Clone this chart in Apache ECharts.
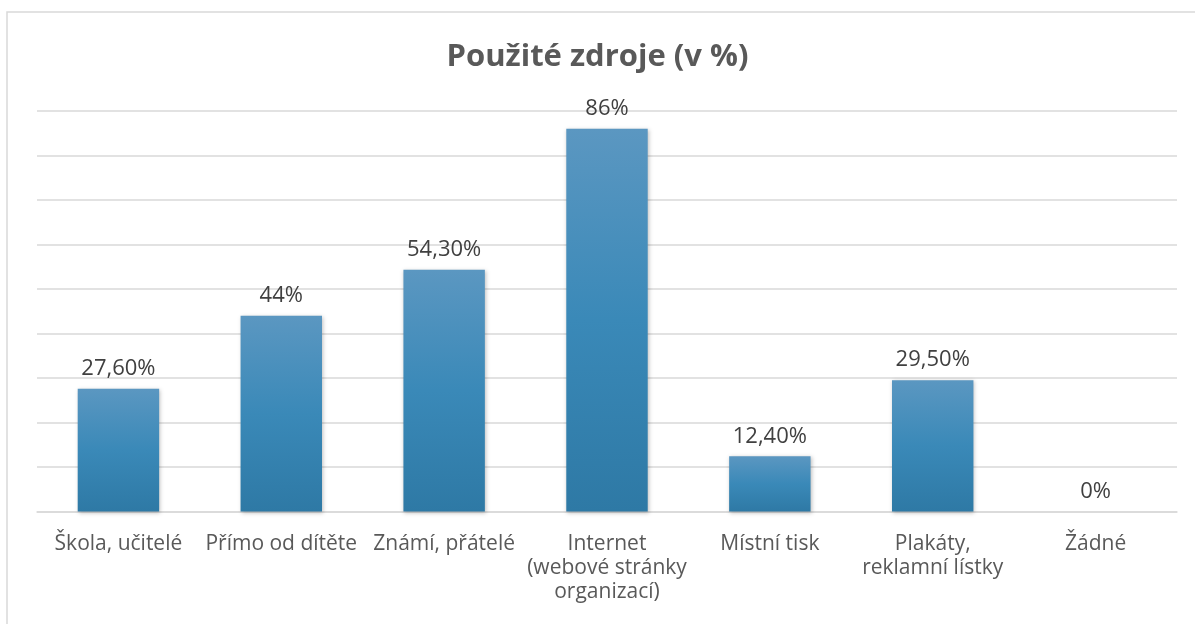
<!DOCTYPE html>
<html>
<head>
<meta charset="utf-8">
<script src="https://cdn.jsdelivr.net/npm/echarts@6/dist/echarts.min.js"></script>
<style>
  html, body { margin: 0; padding: 0; background: #fff; }
  #chart { width: 1195px; height: 624px; }
</style>
</head>
<body>
<div id="chart"></div>
<script>
const categories = ['Škola, učitelé', 'Přímo od dítěte', 'Známí, přátelé', 'Internet\n(webové stránky\norganizací)', 'Místní tisk', 'Plakáty,\nreklamní lístky', 'Žádné'];
const values = [27.6, 44, 54.3, 86, 12.4, 29.5, 0];
const valueLabels = ['27,60%', '44%', '54,30%', '86%', '12,40%', '29,50%', '0%'];

const chart = echarts.init(document.getElementById('chart'), null, { renderer: 'canvas' });

const options = {
  animation: false,
  textStyle: { fontFamily: 'Open Sans' },
  title: {
    text: 'Použité zdroje (v %)',
    left: 'center',
    top: 37,
    textStyle: { fontSize: 31, fontWeight: 'bold', color: '#595959', fontFamily: 'Open Sans' }
  },
  graphic: [{
    type: 'rect',
    shape: { x: 7, y: 12, width: 1400, height: 800 },
    style: { fill: 'none', stroke: '#d9d9d9', lineWidth: 1.5 },
    silent: true
  }],
  grid: { left: 37, right: 18, top: 111, bottom: 112.5 },
  xAxis: {
    type: 'category',
    data: categories,
    axisTick: { show: false },
    axisLine: { lineStyle: { color: '#d9d9d9', width: 1.5 } },
    axisLabel: { color: '#595959', fontSize: 21, lineHeight: 24, margin: 21, interval: 0 }
  },
  yAxis: {
    type: 'value',
    min: 0,
    max: 90,
    interval: 10,
    axisLabel: { show: false },
    axisLine: { show: false },
    axisTick: { show: false },
    splitLine: { lineStyle: { color: '#d9d9d9', width: 1.5 } }
  },
  series: [{
    type: 'bar',
    data: values,
    barWidth: '50%',
    itemStyle: {
      color: new echarts.graphic.LinearGradient(0, 0, 0, 1, [
        { offset: 0, color: '#5b97c1' },
        { offset: 0.5, color: '#3a89b8' },
        { offset: 1, color: '#2e79a5' }
      ]),
      shadowColor: 'rgba(0,0,0,0.25)',
      shadowBlur: 4,
      shadowOffsetX: 1,
      shadowOffsetY: 1
    },
    label: {
      show: true,
      position: 'top',
      distance: 9,
      color: '#404040',
      fontSize: 22,
      formatter: p => valueLabels[p.dataIndex]
    }
  }]
};

chart.setOption(options);
</script>
</body>
</html>
